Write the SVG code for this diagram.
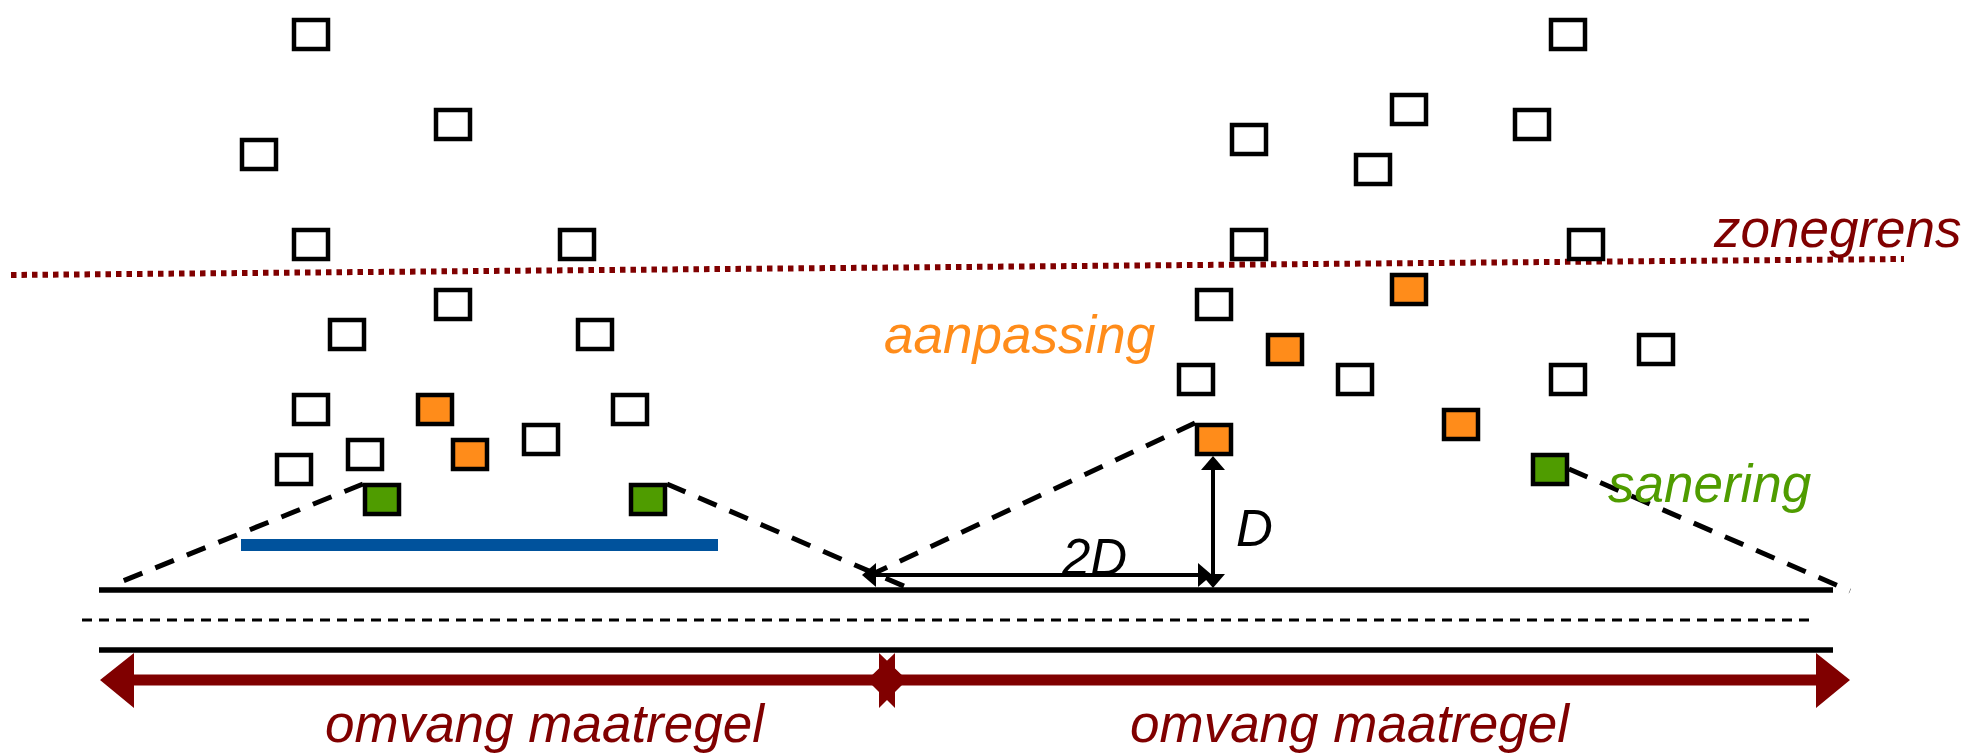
<svg xmlns="http://www.w3.org/2000/svg" width="1971" height="755" viewBox="0 0 1971 755">
<style>
.s{fill:#ffffff;stroke:#000;stroke-width:4.5}
.o{fill:#ff8c1a;stroke:#000;stroke-width:4.5}
.g{fill:#4f9c00;stroke:#000;stroke-width:4.5}
.t{font-family:"Liberation Sans",Arial,sans-serif;font-style:italic}
.dash{fill:none;stroke:#000;stroke-width:5;stroke-dasharray:20 14}
.road{stroke:#000;stroke-width:5.5}
.dim{stroke:#000;stroke-width:4;fill:none;marker-start:url(#ah);marker-end:url(#ah)}
</style>
<defs>
<marker id="ah" viewBox="0 0 14 24" refX="3" refY="12" markerWidth="14" markerHeight="24" markerUnits="userSpaceOnUse" orient="auto-start-reverse">
<path d="M0,0 L14,12 L0,24 z" fill="#000"/>
</marker>
</defs>
<rect width="1971" height="755" fill="#ffffff"/>

<g id="zonegrens">
<line x1="11" y1="275" x2="1904" y2="259" stroke="#800000" stroke-width="6" stroke-dasharray="5.5 5"/>
<text class="t" x="1714" y="247" font-size="53" fill="#800000">zonegrens</text>
</g>

<g id="road">
<line class="road" x1="99" y1="590" x2="1833" y2="590"/>
<line x1="82" y1="620" x2="1809" y2="620" stroke="#000" stroke-width="3" stroke-dasharray="10 7"/>
<line class="road" x1="99" y1="650" x2="1833" y2="650"/>
</g>

<g id="screen">
<rect x="241" y="539" width="477" height="12" fill="#00529c"/>
</g>

<g id="connectors">
<line class="dash" x1="363" y1="484" x2="113" y2="585"/>
<line class="dash" x1="667" y1="484" x2="913" y2="590"/>
<line class="dash" x1="1195" y1="423" x2="864" y2="578"/>
<line class="dash" x1="1569" y1="469" x2="1850" y2="591"/>
<line class="dim" x1="1213" y1="467" x2="1213" y2="577"/>
<line class="dim" x1="873" y1="575" x2="1201" y2="575"/>
<polygon fill="#800000" points="100,680 134,653 134,674.5 879,674.5 879,653 907,680 879,708 879,685.5 134,685.5 134,708"/>
<polygon fill="#800000" points="867,680 895,653 895,674.5 1816,674.5 1816,653 1850,680 1816,708 1816,685.5 895,685.5 895,708"/>
</g>

<g id="L1"><rect class="s" x="294" y="20" width="34" height="29"/></g>
<g id="L2"><rect class="s" x="436" y="110" width="34" height="29"/></g>
<g id="L3"><rect class="s" x="242" y="140" width="34" height="29"/></g>
<g id="L4"><rect class="s" x="294" y="230" width="34" height="29"/></g>
<g id="L5"><rect class="s" x="560" y="230" width="34" height="29"/></g>
<g id="L6"><rect class="s" x="436" y="290" width="34" height="29"/></g>
<g id="L7"><rect class="s" x="330" y="320" width="34" height="29"/></g>
<g id="L8"><rect class="s" x="578" y="320" width="34" height="29"/></g>
<g id="L9"><rect class="s" x="294" y="395" width="34" height="29"/></g>
<g id="L10"><rect class="o" x="418" y="395" width="34" height="29"/></g>
<g id="L11"><rect class="s" x="613" y="395" width="34" height="29"/></g>
<g id="L12"><rect class="s" x="524" y="425" width="34" height="29"/></g>
<g id="L13"><rect class="s" x="348" y="440" width="34" height="29"/></g>
<g id="L14"><rect class="o" x="453" y="440" width="34" height="29"/></g>
<g id="L15"><rect class="s" x="277" y="455" width="34" height="29"/></g>
<g id="L16"><rect class="g" x="365" y="485" width="34" height="29"/></g>
<g id="L17"><rect class="g" x="631" y="485" width="34" height="29"/></g>

<g id="R1"><rect class="s" x="1551" y="20" width="34" height="29"/></g>
<g id="R2"><rect class="s" x="1392" y="95" width="34" height="29"/></g>
<g id="R3"><rect class="s" x="1515" y="110" width="34" height="29"/></g>
<g id="R4"><rect class="s" x="1232" y="125" width="34" height="29"/></g>
<g id="R5"><rect class="s" x="1356" y="155" width="34" height="29"/></g>
<g id="R6"><rect class="s" x="1232" y="230" width="34" height="29"/></g>
<g id="R7"><rect class="s" x="1569" y="230" width="34" height="29"/></g>
<g id="R8"><rect class="o" x="1392" y="275" width="34" height="29"/></g>
<g id="R9"><rect class="s" x="1197" y="290" width="34" height="29"/></g>
<g id="R10"><rect class="o" x="1268" y="335" width="34" height="29"/></g>
<g id="R11"><rect class="s" x="1639" y="335" width="34" height="29"/></g>
<g id="R12"><rect class="s" x="1179" y="365" width="34" height="29"/></g>
<g id="R13"><rect class="s" x="1338" y="365" width="34" height="29"/></g>
<g id="R14"><rect class="s" x="1551" y="365" width="34" height="29"/></g>
<g id="R15"><rect class="o" x="1444" y="410" width="34" height="29"/></g>
<g id="R16"><rect class="o" x="1197" y="425" width="34" height="29"/></g>
<g id="R17"><rect class="g" x="1533" y="455" width="34" height="29"/></g>

<g id="labels">
<text class="t" x="884" y="353" font-size="53" fill="#ff8c1a">aanpassing</text>
<text class="t" x="1608" y="502" font-size="53" fill="#4f9c00">sanering</text>
<text class="t" x="1062" y="575" font-size="51" fill="#000">2D</text>
<text class="t" x="1236" y="546" font-size="51" fill="#000">D</text>
<text class="t" x="325" y="742" font-size="53" fill="#800000">omvang maatregel</text>
<text class="t" x="1130" y="742" font-size="53" fill="#800000">omvang maatregel</text>
</g>
</svg>
